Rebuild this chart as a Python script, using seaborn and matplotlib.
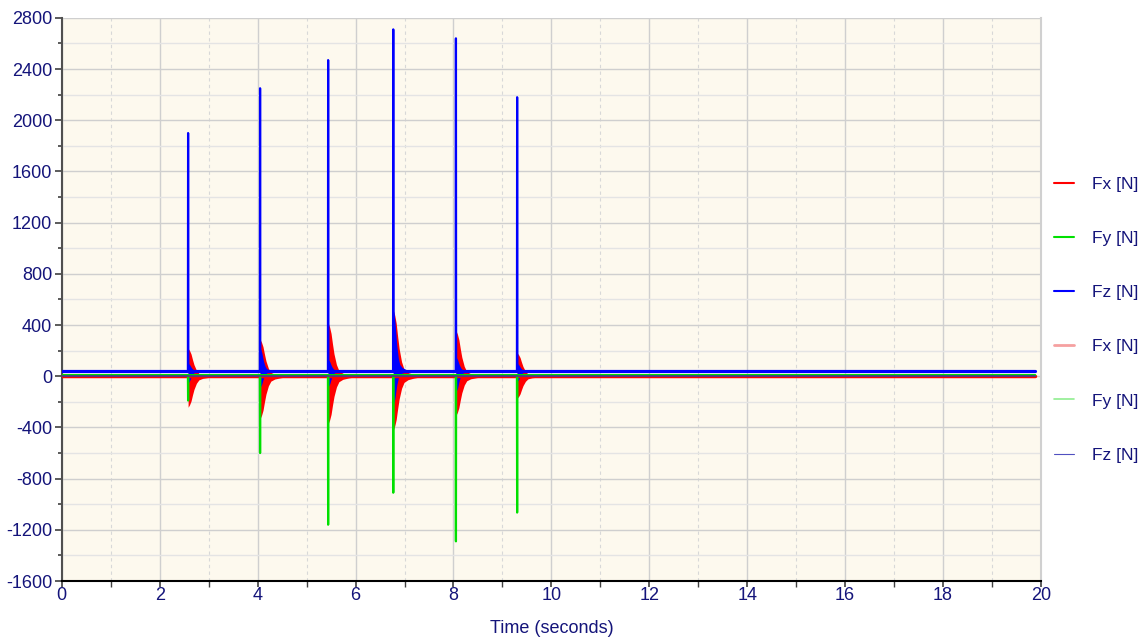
import numpy as np
import pandas as pd
import seaborn as sns
import matplotlib
matplotlib.use("Agg")
import matplotlib.pyplot as plt
from matplotlib.ticker import MultipleLocator
from matplotlib.lines import Line2D

# ---- data ----
impact_t = [2.58, 4.05, 5.44, 6.77, 8.05, 9.30]
fz_peak = [1900, 2250, 2470, 2710, 2640, 2180]
fy_min = [-190, -600, -1160, -910, -1290, -1065]
fx_pos = [220, 290, 420, 520, 360, 185]
fx_neg = [-240, -330, -370, -420, -305, -170]
fz_osc_pos = [60, 180, 90, 480, 110, 60]
fz_osc_neg = [-90, -125, -120, -260, -160, -80]

# decay shape of the ringing after each impact (time offset s, fraction of peak)
decay_dt = [0.0, 0.03, 0.06, 0.09, 0.12, 0.17, 0.22, 0.30, 0.42, 0.60]
decay_frac = [1.0, 0.92, 0.80, 0.60, 0.42, 0.22, 0.11, 0.06, 0.03, 0.0]

t_start, t_end = 0.0, 19.88
fz_base, fy_base, fx_base = 40, 8, -2

labels = ["Fx [N]", "Fy [N]", "Fz [N]", "Fx [N]", "Fy [N]", "Fz [N]"]
colors = ["#ff0000", "#00e000", "#0000ff", "#f5a0a0", "#90ee90", "#5050c0"]

# ---- style ----
sns.set_theme(style="white")
plt.rcParams['font.family'] = ['Liberation Sans', 'DejaVu Sans']
plt.rcParams['axes.unicode_minus'] = False
navy = "#14147a"

fig = plt.figure(figsize=(11.44, 6.38), dpi=100)
ax = fig.add_axes([0.054, 0.0893, 0.856, 0.8827])
ax.set_facecolor("#fdf9ee")


def spike_frame(base, peaks, eps=0.004):
    ts, vs = [t_start], [base]
    for t, p in zip(impact_t, peaks):
        ts += [t - eps, t, t + eps]
        vs += [base, p, base]
    ts.append(t_end)
    vs.append(base)
    return pd.DataFrame({"t": ts, "v": vs})


# red ringing envelope (Fx)
for t, pp, pn in zip(impact_t, fx_pos, fx_neg):
    xs = [t + d for d in decay_dt]
    ax.fill_between(xs, [fx_base + pp * f for f in decay_frac],
                    [fx_base + pn * f for f in decay_frac],
                    color=colors[0], lw=0, zorder=2)
# blue ringing envelope (Fz), decays faster
for t, ap, an in zip(impact_t, fz_osc_pos, fz_osc_neg):
    xs = [t + d * 0.6 for d in decay_dt]
    ax.fill_between(xs, [fz_base + ap * f for f in decay_frac],
                    [fz_base + an * f for f in decay_frac],
                    color=colors[2], lw=0, zorder=3)

df_fx = pd.DataFrame({"t": [t_start, t_end], "v": [fx_base, fx_base]})
sns.lineplot(data=df_fx, x="t", y="v", ax=ax, color=colors[0], lw=2.5, zorder=4, legend=False)
df_fy = pd.DataFrame({"t": [t_start, t_end], "v": [fy_base, fy_base]})
sns.lineplot(data=df_fy, x="t", y="v", ax=ax, color=colors[1], lw=1.2, zorder=4, legend=False)
sns.lineplot(data=spike_frame(fy_base, fy_min), x="t", y="v", ax=ax, color=colors[1], lw=1.6,
             zorder=5, legend=False, sort=False)
df_fz = pd.DataFrame({"t": [t_start, t_end], "v": [fz_base, fz_base]})
sns.lineplot(data=df_fz, x="t", y="v", ax=ax, color=colors[2], lw=2.3, zorder=6, legend=False)
sns.lineplot(data=spike_frame(fz_base, fz_peak), x="t", y="v", ax=ax, color=colors[2], lw=1.6,
             zorder=6, legend=False, sort=False)
df_fz2 = pd.DataFrame({"t": [t_start, t_end], "v": [fx_base, fx_base]})
sns.lineplot(data=df_fz2, x="t", y="v", ax=ax, color="#503090", lw=1.2, zorder=7, legend=False)

ax.set_xlim(0, 20)
ax.set_ylim(-1600, 2800)
ax.xaxis.set_major_locator(MultipleLocator(2))
ax.xaxis.set_minor_locator(MultipleLocator(1))
ax.yaxis.set_major_locator(MultipleLocator(400))
ax.yaxis.set_minor_locator(MultipleLocator(200))

ax.grid(which="major", color="#cfcfcf", lw=1.0, zorder=0)
ax.grid(which="minor", axis="y", color="#e4e4e4", lw=1.0, zorder=0)
ax.grid(which="minor", axis="x", color="#d8d8d8", lw=0.8, ls=(0, (3, 3)), zorder=0)
ax.set_axisbelow(True)

ax.spines["top"].set_visible(False)
ax.spines["right"].set_color("#d0d0d0")
ax.spines["right"].set_linewidth(1.5)
ax.spines["left"].set_color("#505050")
ax.spines["left"].set_linewidth(1.5)
ax.spines["bottom"].set_color("#000000")
ax.spines["bottom"].set_linewidth(1.5)

ax.tick_params(axis="both", which="both", direction="out", colors="#404040",
               labelcolor=navy, labelsize=13)
ax.tick_params(axis="y", which="major", length=5, width=1.2, left=True, pad=2)
ax.tick_params(axis="y", which="minor", length=3, width=1.2, left=True)
ax.tick_params(axis="x", which="major", length=4, width=1.2, bottom=True, pad=0)
ax.tick_params(axis="x", which="minor", length=4, width=1.0, bottom=True)

ax.set_xlabel("Time (seconds)", color=navy, fontsize=13, labelpad=12)
ax.set_ylabel("")

handles = [
    Line2D([], [], color=colors[0], lw=1.5),
    Line2D([], [], color=colors[1], lw=1.5),
    Line2D([], [], color=colors[2], lw=1.5),
    Line2D([], [], color=colors[3], lw=2.0),
    Line2D([], [], color=colors[4], lw=1.2),
    Line2D([], [], color=colors[5], lw=0.8),
]
leg = fig.legend(handles, labels, loc="center left", bbox_to_anchor=(0.921, 0.499),
                 frameon=False, handlelength=1.2, labelspacing=2.25, fontsize=12.5,
                 handletextpad=1.0, labelcolor=navy, borderpad=0, borderaxespad=0)

fig.savefig("out.png", dpi=100)
